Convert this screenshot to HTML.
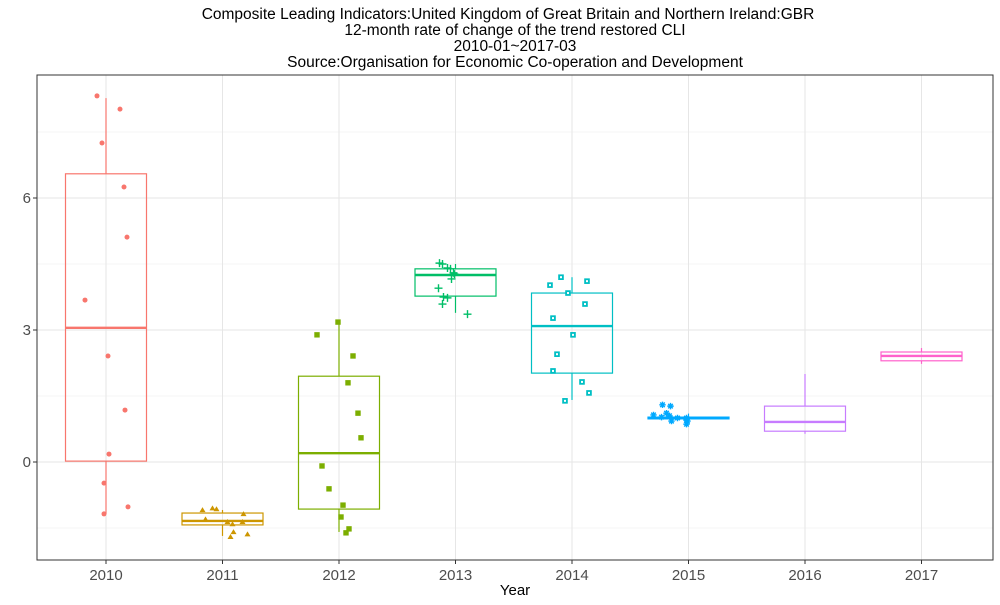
<!DOCTYPE html>
<html><head><meta charset="utf-8">
<style>
body{margin:0;background:#fff;width:1000px;height:600px;overflow:hidden;font-family:"Liberation Sans",sans-serif;}
</style></head>
<body>
<svg id="chart" width="1000" height="600" xmlns="http://www.w3.org/2000/svg" font-family="Liberation Sans, sans-serif">
<g font-size="15.5" text-anchor="middle" fill="#000">
<text x="508" y="19">Composite Leading Indicators:United Kingdom of Great Britain and Northern Ireland:GBR</text>
<text x="515" y="35">12-month rate of change of the trend restored CLI</text>
<text x="515" y="51">2010-01~2017-03</text>
<text x="515" y="67">Source:Organisation for Economic Co-operation and Development</text>
</g>
<g id="grid"></g>
<g id="boxes"></g>
<g id="pts"></g>
<rect x="37" y="75" width="956" height="485" fill="none" stroke="#333" stroke-width="1"/>
<g id="axes"></g>
<text x="515" y="595" font-size="15" text-anchor="middle">Year</text>
</svg>
<script>
const categories=["2010","2011","2012","2013","2014","2015","2016","2017"];
const colors=["#F8766D","#CD9600","#7CAE00","#00BE67","#00BFC4","#00A9FF","#C77CFF","#FF61CC"];
const lowWhisker=[-1.18,-1.68,-1.59,3.39,1.41,0.90,0.64,2.23];
const q1=[0.02,-1.43,-1.07,3.77,2.02,0.98,0.70,2.30];
const medians=[3.05,-1.34,0.20,4.25,3.09,1.00,0.91,2.41];
const q3=[6.55,-1.16,1.95,4.39,3.84,1.02,1.27,2.50];
const highWhisker=[8.27,-1.09,3.18,4.50,4.20,1.10,2.00,2.59];
const pts2010=[8.32,8.02,7.25,6.25,5.11,3.68,2.41,1.18,0.18,-0.48,-1.02,-1.18];
const pts2011=[-1.09,-1.05,-1.07,-1.30,-1.36,-1.41,-1.36,-1.18,-1.59,-1.70,-1.64];
const pts2012=[2.89,3.18,2.41,1.80,1.11,0.55,-0.09,-0.61,-0.98,-1.25,-1.52,-1.61];
const pts2013=[4.52,4.50,4.41,4.39,4.30,4.27,4.16,3.95,3.75,3.73,3.59,3.36];
const pts2014=[4.20,4.02,4.11,3.84,3.59,3.27,2.89,2.45,2.07,1.82,1.57,1.39];
const pts2015=[1.30,1.27,1.07,1.02,1.11,1.05,0.93,1.00,1.00,0.86,0.93,0.95];
const jitter2010=[-9,14,-4,18,21,-21,2,19,3,-2,22,-2];
const jitter2011=[-20,-10,-6,-17,5,10,20,21,11,8,25];
const jitter2012=[-22,-1,14,9,19,22,-17,-10,4,2,10,7];
const jitter2013=[-16,-13,-8,-5,-2,-1,-4,-17,-12,-8,-13,12];
const jitter2014=[-11,-22,15,-4,13,-19,1,-15,-19,10,17,-7];
const jitter2015=[-26,-18,-35,-27,-22,-19,-17,-11,-2,-2,-1,-2];
const tickValues=[0,3,6];
const minorValues=[-1.5,1.5,4.5,7.5];
const allPts=[pts2010,pts2011,pts2012,pts2013,pts2014,pts2015,[],[]];
const allJit=[jitter2010,jitter2011,jitter2012,jitter2013,jitter2014,jitter2015,[],[]];

const NS="http://www.w3.org/2000/svg";
const yScale=v=>462-44*v;
const xScale=i=>106+116.5*i;
function mk(tag,attrs,parent){const e=document.createElementNS(NS,tag);for(const k in attrs)e.setAttribute(k,attrs[k]);parent.appendChild(e);return e;}
const grid=document.getElementById('grid'),boxes=document.getElementById('boxes'),pts=document.getElementById('pts'),axes=document.getElementById('axes');
mk('rect',{x:37,y:75,width:956,height:485,fill:'#fff'},grid);
minorValues.forEach(v=>{const l=mk('line',{x1:37,x2:993,y1:yScale(v),y2:yScale(v),stroke:'#f2f2f2','stroke-width':0.8},grid);

});
tickValues.forEach(v=>{const l=mk('line',{x1:37,x2:993,y1:yScale(v),y2:yScale(v),stroke:'#e6e6e6','stroke-width':1},grid);


const t=mk('text',{x:31,y:yScale(v)+5,'font-size':15,'text-anchor':'end',fill:'#4d4d4d'},axes);t.textContent=v;


mk('line',{x1:33,x2:37,y1:yScale(v),y2:yScale(v),stroke:'#333'},axes);});
categories.forEach((c,i)=>{const x=xScale(i);
const g=mk('line',{x1:x,x2:x,y1:75,y2:560,stroke:'#e6e6e6'},grid);


mk('line',{x1:x,x2:x,y1:560,y2:564,stroke:'#333'},axes);
const t=mk('text',{x:x,y:580,'font-size':15,'text-anchor':'middle',fill:'#4d4d4d'},axes);t.textContent=c;


const col=colors[i];const bg=mk('g',{},boxes);


mk('line',{x1:x,x2:x,y1:yScale(highWhisker[i]),y2:yScale(q3[i]),stroke:col,'stroke-width':1.2},bg);
mk('line',{x1:x,x2:x,y1:yScale(q1[i]),y2:yScale(lowWhisker[i]),stroke:col,'stroke-width':1.2},bg);
const top=yScale(q3[i]),bot=yScale(q1[i]);
mk('rect',{x:x-40.5,y:top,width:81,height:Math.max(bot-top,0.5),fill:'none',stroke:col,'stroke-width':1.2},bg);
mk('line',{x1:x-40.5,x2:x+40.5,y1:yScale(medians[i]),y2:yScale(medians[i]),stroke:col,'stroke-width':2.4},bg);
allPts[i].forEach((v,j)=>{const px=x+allJit[i][j],py=yScale(v);let e;
if(i===0)e=mk('circle',{cx:px,cy:py,r:2.5,fill:col},pts);
else if(i===1)e=mk('polygon',{points:`${px-3},${py+2.2} ${px+3},${py+2.2} ${px},${py-2.8}`,fill:col},pts);
else if(i===2)e=mk('rect',{x:px-2.7,y:py-2.7,width:5.4,height:5.4,fill:col},pts);
else if(i===3)e=mk('path',{d:`M${px-4},${py}H${px+4}M${px},${py-4}V${py+4}`,stroke:col,'stroke-width':1.4,fill:'none'},pts);
else if(i===4){e=mk('g',{},pts);mk('rect',{x:px-2.8,y:py-2.8,width:5.6,height:5.6,fill:col},e);mk('rect',{x:px-1,y:py-1,width:2,height:2,fill:'#fff'},e);}
else e=mk('path',{d:`M${px-3.2},${py}H${px+3.2}M${px},${py-3.2}V${py+3.2}M${px-2.3},${py-2.3}L${px+2.3},${py+2.3}M${px-2.3},${py+2.3}L${px+2.3},${py-2.3}`,stroke:col,'stroke-width':1.4,fill:'none'},pts);

});
});
</script>
</body></html>
